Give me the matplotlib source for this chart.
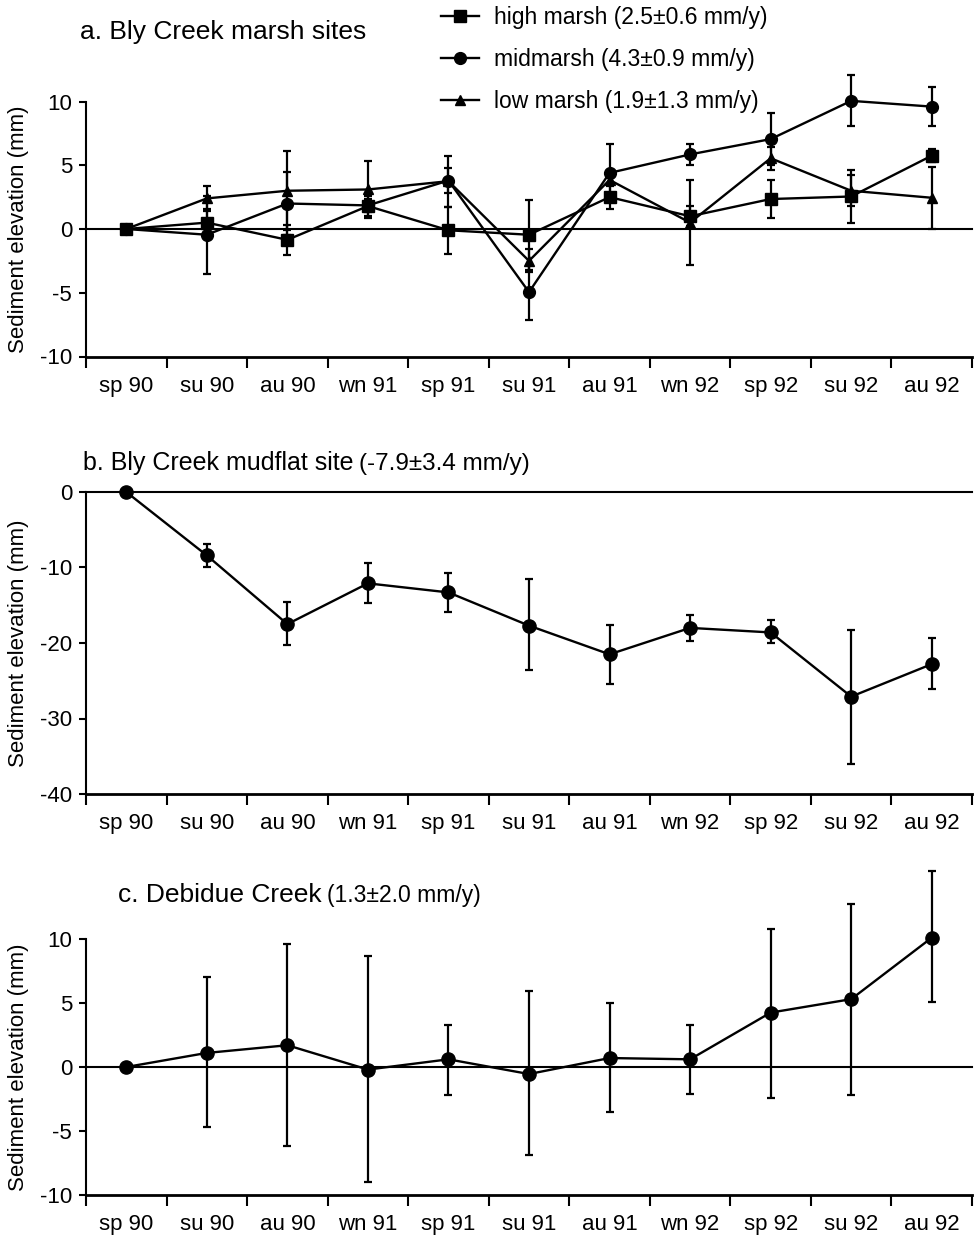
import numpy as np
import matplotlib
matplotlib.use('Agg')
import matplotlib.pyplot as plt
from matplotlib.lines import Line2D

plt.rcParams['font.family'] = ['Liberation Sans', 'DejaVu Sans']
plt.rcParams['axes.unicode_minus'] = False

seasons = ['sp 90', 'su 90', 'au 90', 'wn 91', 'sp 91', 'su 91',
           'au 91', 'wn 92', 'sp 92', 'su 92', 'au 92']

# a. Bly Creek marsh sites
high = [0, 0.5, -0.85, 1.8, -0.1, -0.45, 2.5, 1.0, 2.35, 2.55, 5.75]
high_err = [0, 1.1, 1.15, 0.8, 1.85, 2.75, 0.95, 0.8, 1.5, 2.05, 0.5]
mid = [0, -0.45, 2.0, 1.85, 3.8, -4.95, 4.4, 5.85, 7.05, 10.05, 9.6]
mid_err = [0, 3.05, 2.5, 0.5, 1.0, 2.15, 2.25, 0.8, 2.05, 2.0, 1.55]
low = [0, 2.4, 3.0, 3.1, 3.75, -2.5, 3.85, 0.5, 5.55, 3.0, 2.45]
low_err = [0, 1.0, 3.1, 2.2, 2.0, 0.9, 0.5, 3.35, 0.9, 1.2, 2.45]

# b. Bly Creek mudflat
mud = [0, -8.4, -17.5, -12.1, -13.3, -17.7, -21.5, -18.0, -18.6, -27.1, -22.8]
mud_lo = [0, 1.5, 2.7, 2.6, 2.6, 5.9, 3.9, 1.7, 1.4, 8.9, 3.3]
mud_hi = [0, 1.5, 2.9, 2.7, 2.6, 6.2, 3.9, 1.7, 1.6, 8.8, 3.4]

# c. Debidue Creek
deb = [0, 1.1, 1.7, -0.2, 0.6, -0.55, 0.7, 0.6, 4.25, 5.3, 10.1]
deb_lo = [0, 5.8, 7.9, 8.8, 2.8, 6.35, 4.2, 2.7, 6.65, 7.45, 5.0]
deb_hi = [0, 5.9, 7.9, 8.9, 2.7, 6.45, 4.3, 2.7, 6.55, 7.4, 5.2]

x = np.arange(len(seasons))

fig = plt.figure(figsize=(9.79, 12.35), dpi=100)
W, H = 979, 1235


def make_axes(top, bottom):
    ax = fig.add_axes([86 / W, 1 - bottom / H, 886 / W, (bottom - top) / H])
    ax.spines['top'].set_visible(False)
    ax.spines['right'].set_visible(False)
    ax.spines['bottom'].set_linewidth(2)
    ax.spines['left'].set_linewidth(1.5)
    ax.set_xlim(-0.5, 10.5)
    ax.set_xticks(np.arange(-0.5, 11, 1))
    ax.set_xticklabels([])
    ax.set_xticks(x, minor=True)
    ax.set_xticklabels(seasons, minor=True, fontsize=16)
    ax.tick_params(axis='x', which='major', direction='out', length=8, width=1.5)
    ax.tick_params(axis='x', which='minor', length=0, pad=14)
    ax.tick_params(axis='y', direction='out', length=5, width=1.5, labelsize=16, pad=5)
    ax.axhline(0, color='k', lw=1.5, zorder=1)
    ax.set_ylabel('Sediment elevation (mm)', fontsize=16)
    ax.yaxis.set_label_coords(-0.064, 0.5)
    return ax


def unclip(ax):
    for art in ax.lines + list(ax.collections):
        art.set_clip_on(False)


ekw = dict(color='k', lw=1.7, elinewidth=1.6, capsize=3, capthick=1.6)

# panel a
ax1 = make_axes(101.5, 356.5)
ax1.set_ylim(-10, 10)
ax1.set_yticks([-10, -5, 0, 5, 10])
ax1.errorbar(x, high, yerr=high_err, marker='s', ms=8, **ekw)
ax1.errorbar(x, mid, yerr=mid_err, marker='o', ms=8.5, **ekw)
ax1.errorbar(x, low, yerr=low_err, marker='^', ms=7.5, **ekw)
unclip(ax1)
fig.text(80 / W, 1 - 32 / H, 'a. Bly Creek marsh sites', fontsize=19, va='center', ha='left')

handles = [Line2D([], [], color='k', lw=1.7, marker='s', ms=8),
           Line2D([], [], color='k', lw=1.7, marker='o', ms=8.5),
           Line2D([], [], color='k', lw=1.7, marker='^', ms=7.5)]
labels = ['high marsh (2.5±0.6 mm/y)', 'midmarsh (4.3±0.9 mm/y)', 'low marsh (1.9±1.3 mm/y)']
fig.legend(handles, labels, loc='upper left', bbox_to_anchor=(441 / W, 1 - 6 / H),
           bbox_transform=fig.transFigure, frameon=False, fontsize=16.5,
           handlelength=1.65, handletextpad=0.65, labelspacing=0.82,
           borderpad=0, borderaxespad=0)

# panel b
ax2 = make_axes(492, 794)
ax2.set_ylim(-40, 0)
ax2.set_yticks([-40, -30, -20, -10, 0])
ax2.errorbar(x, mud, yerr=[mud_lo, mud_hi], marker='o', ms=9.5, **ekw)
unclip(ax2)
t2 = fig.text(83 / W, 1 - 463 / H, 'b. Bly Creek mudflat site', fontsize=18, va='center', ha='left')
ax2.annotate('(-7.9±3.4 mm/y)', xy=(1, 0), xycoords=t2, xytext=(4, 0),
             textcoords='offset points', fontsize=17.5, va='bottom', ha='left')

# panel c
ax3 = make_axes(939, 1195)
ax3.set_ylim(-10, 10)
ax3.set_yticks([-10, -5, 0, 5, 10])
ax3.errorbar(x, deb, yerr=[deb_lo, deb_hi], marker='o', ms=9.5, **ekw)
unclip(ax3)
t3 = fig.text(118 / W, 1 - 895 / H, 'c. Debidue Creek', fontsize=19, va='center', ha='left')
ax3.annotate('(1.3±2.0 mm/y)', xy=(1, 0), xycoords=t3, xytext=(4, 0),
             textcoords='offset points', fontsize=16.5, va='bottom', ha='left')

fig.savefig('out.png', dpi=100)
